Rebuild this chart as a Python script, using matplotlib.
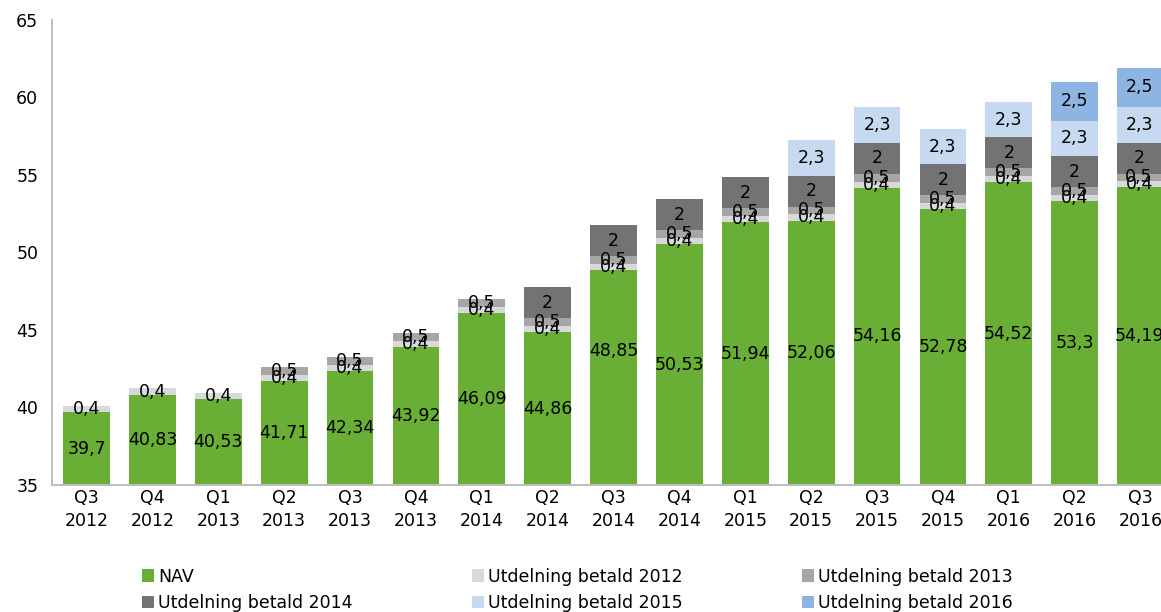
import matplotlib
matplotlib.use("Agg")
import matplotlib.pyplot as plt
import numpy as np

quarters = ["Q3\n2012", "Q4\n2012", "Q1\n2013", "Q2\n2013", "Q3\n2013", "Q4\n2013",
            "Q1\n2014", "Q2\n2014", "Q3\n2014", "Q4\n2014", "Q1\n2015", "Q2\n2015",
            "Q3\n2015", "Q4\n2015", "Q1\n2016", "Q2\n2016", "Q3\n2016"]
nav = [39.7, 40.83, 40.53, 41.71, 42.34, 43.92, 46.09, 44.86, 48.85, 50.53,
       51.94, 52.06, 54.16, 52.78, 54.52, 53.3, 54.19]
utd2012 = [0.4] * 17
utd2013 = [0, 0, 0, 0.5, 0.5, 0.5, 0.5, 0.5, 0.5, 0.5, 0.5, 0.5, 0.5, 0.5, 0.5, 0.5, 0.5]
utd2014 = [0, 0, 0, 0, 0, 0, 0, 2, 2, 2, 2, 2, 2, 2, 2, 2, 2]
utd2015 = [0, 0, 0, 0, 0, 0, 0, 0, 0, 0, 0, 2.3, 2.3, 2.3, 2.3, 2.3, 2.3]
utd2016 = [0, 0, 0, 0, 0, 0, 0, 0, 0, 0, 0, 0, 0, 0, 0, 2.5, 2.5]

series = [("NAV", nav, "#6AAF35"),
          ("Utdelning betald 2012", utd2012, "#D9D9D9"),
          ("Utdelning betald 2013", utd2013, "#A6A6A6"),
          ("Utdelning betald 2014", utd2014, "#737373"),
          ("Utdelning betald 2015", utd2015, "#C6D9F1"),
          ("Utdelning betald 2016", utd2016, "#8DB4E2")]

def fmt(v):
    return ("%g" % v).replace(".", ",")

fig = plt.figure(figsize=(11.61, 6.12), dpi=100)
ax = fig.add_axes([0.045, 0.2075, 0.955, 0.76])
x = np.arange(len(quarters))
base = 35
bottom = np.zeros(len(quarters))
handles = {}
for name, vals, col in series:
    vals = np.array(vals, dtype=float)
    if name == "NAV":
        h = ax.bar(x, vals - base, bottom=base, width=0.71, color=col)
        labels = [fmt(v) for v in vals]
        bottom = vals.copy()
    else:
        h = ax.bar(x, vals, bottom=bottom, width=0.71, color=col)
        labels = [fmt(v) if v > 0 else "" for v in vals]
        bottom = bottom + vals
    txts = ax.bar_label(h, labels=labels, label_type="center", fontsize=12.5, color="black")
    if name == "NAV":
        # the Q3 2014 label sits higher in the original
        txts[8].xyann = (0, 19)
    handles[name] = h

ax.set_ylim(35, 65)
ax.set_xlim(-0.52, 16.31)
ax.set_yticks(range(35, 66, 5))
ax.set_xticks(x)
ax.set_xticklabels(quarters, fontsize=12.5, linespacing=1.35)
ax.tick_params(axis="y", labelsize=12.5, length=0, pad=10)
ax.tick_params(axis="x", length=0, pad=3)
for s in ["top", "right"]:
    ax.spines[s].set_visible(False)
ax.spines["left"].set_color("#BFBFBF")
ax.spines["bottom"].set_color("#BFBFBF")
ax.spines["left"].set_linewidth(1.5)
ax.spines["bottom"].set_linewidth(1.5)

order = ["NAV", "Utdelning betald 2014", "Utdelning betald 2012",
         "Utdelning betald 2015", "Utdelning betald 2013", "Utdelning betald 2016"]
fig.legend([handles[n] for n in order], order, ncol=3, loc="lower left",
           bbox_to_anchor=(0.109, -0.025), frameon=False, fontsize=12.5,
           handlelength=0.7, handleheight=0.7, handletextpad=0.2,
           columnspacing=6.9, labelspacing=0.47)

fig.savefig("out.png", dpi=100)
